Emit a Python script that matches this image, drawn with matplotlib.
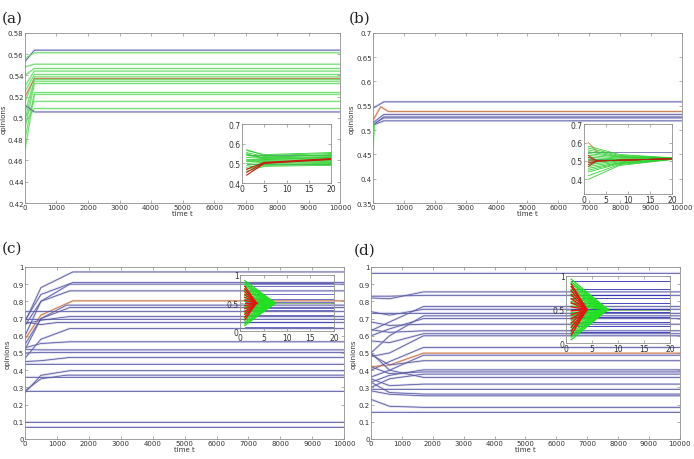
import matplotlib
matplotlib.use('Agg')
import matplotlib.pyplot as plt

# ---- data ----
# (a) main: final opinions, starting opinions, settle time
a_final = [0.5637, 0.5612, 0.5505, 0.5465, 0.544, 0.5408, 0.5386, 0.537, 0.536,
           0.5345, 0.5323, 0.5238, 0.5222, 0.5156, 0.5088, 0.5056]
a_start = [0.553, 0.556, 0.548, 0.540, 0.530, 0.525, 0.515, 0.520, 0.505,
           0.498, 0.490, 0.480, 0.470, 0.500, 0.495, 0.512]
a_kind = ['b', 'g', 'g', 'g', 'g', 'g', 'g', 'r', 'g',
          'g', 'g', 'g', 'g', 'g', 'g', 'b']
a_settle = 300

# (a) inset: green at x=1, x=5, x=20
a_in_g_start = [0.57, 0.565, 0.555, 0.545, 0.54, 0.53, 0.52, 0.515, 0.51, 0.50,
                0.49, 0.48, 0.47, 0.46, 0.55]
a_in_g_mid = [0.54, 0.545, 0.535, 0.53, 0.528, 0.525, 0.52, 0.515, 0.51, 0.505,
              0.50, 0.495, 0.49, 0.485, 0.52]
a_in_g_end = [0.55, 0.555, 0.54, 0.545, 0.535, 0.53, 0.525, 0.52, 0.515, 0.51,
              0.505, 0.50, 0.495, 0.49, 0.53]
a_in_r_start = [0.44, 0.455, 0.47]
a_in_r_mid = [0.50, 0.502, 0.505]
a_in_r_end = [0.52, 0.522, 0.524]
a_in_blue = [0.545, 0.497]

# (b) main
b_final = [0.558, 0.532, 0.527, 0.525, 0.519]
b_start = [0.545, 0.515, 0.51, 0.512, 0.51]
b_settle = 350
b_brown_t = [0, 250, 500, 10000]
b_brown_y = [0.52, 0.548, 0.538, 0.538]
b_green_t = [0, 60]
b_green_y = [0.465, 0.515]

# (b) inset: green at x=1, x=8, x=20
b_in_g_start = [0.40, 0.42, 0.44, 0.45, 0.46, 0.47, 0.48, 0.49, 0.50, 0.51,
                0.52, 0.53, 0.54, 0.55, 0.56, 0.57, 0.58]
b_in_g_mid = [0.475, 0.48, 0.485, 0.488, 0.49, 0.495, 0.50, 0.502, 0.505, 0.508,
              0.51, 0.515, 0.52, 0.522, 0.525, 0.53, 0.535]
b_in_g_end = [0.508, 0.508, 0.509, 0.51, 0.51, 0.51, 0.511, 0.511, 0.512, 0.512,
              0.513, 0.513, 0.514, 0.515, 0.515, 0.516, 0.517]
b_in_r_start = [0.47, 0.48, 0.49, 0.50, 0.52, 0.53]
b_in_blue = [0.547, 0.512]

# (c) main: start, value at t=500, final, settle time
c_final = [0.971, 0.909, 0.90, 0.861, 0.803, 0.778, 0.764, 0.741, 0.712, 0.70,
           0.677, 0.642, 0.565, 0.518, 0.503, 0.474, 0.435, 0.397, 0.371, 0.358,
           0.277, 0.101, 0.068]
c_mid = [0.88, 0.84, 0.80, 0.80, 0.72, 0.70, 0.70, 0.741, 0.69, 0.70,
         0.665, 0.58, 0.555, 0.518, 0.503, 0.455, 0.435, 0.37, 0.35, 0.358,
         0.277, 0.101, 0.068]
c_start = [0.68, 0.69, 0.66, 0.60, 0.58, 0.52, 0.55, 0.74, 0.67, 0.70,
           0.68, 0.47, 0.53, 0.52, 0.50, 0.45, 0.435, 0.27, 0.28, 0.358,
           0.277, 0.101, 0.068]
c_settle = [1500, 1500, 1400, 1400, 1500, 1300, 1400, 900, 1400, 900,
            1000, 1400, 1400, 900, 900, 1400, 900, 1400, 1300, 900,
            900, 900, 900]
c_red = 4  # index of the brown line

# (c) inset
c_in_g_start = [0.10, 0.13, 0.16, 0.20, 0.23, 0.26, 0.30, 0.33, 0.36, 0.40,
                0.43, 0.46, 0.50, 0.53, 0.56, 0.60, 0.63, 0.66, 0.70, 0.73,
                0.76, 0.80, 0.83, 0.86, 0.90]
c_in_r_start = [0.20, 0.25, 0.30, 0.35, 0.40, 0.45, 0.50, 0.55, 0.60, 0.65,
                0.70, 0.75, 0.80]
c_in_blue = [0.86, 0.80, 0.66, 0.58, 0.52, 0.41, 0.37, 0.29, 0.17, 0.08]
c_in_g_meet = 7.5
c_in_r_meet = 3.5

# (d) main: start, value at t=600, final
d_final = [0.967, 0.855, 0.835, 0.77, 0.754, 0.73, 0.716, 0.70, 0.667, 0.629,
           0.612, 0.60, 0.532, 0.499, 0.487, 0.455, 0.402, 0.39, 0.377, 0.358,
           0.319, 0.29, 0.261, 0.251, 0.184, 0.155]
d_mid = [0.967, 0.815, 0.83, 0.68, 0.72, 0.73, 0.60, 0.64, 0.66, 0.62,
         0.56, 0.50, 0.45, 0.43, 0.40, 0.43, 0.37, 0.38, 0.35, 0.40,
         0.31, 0.29, 0.27, 0.26, 0.19, 0.155]
d_start = [0.967, 0.82, 0.83, 0.63, 0.74, 0.73, 0.50, 0.60, 0.68, 0.635,
           0.57, 0.48, 0.40, 0.42, 0.36, 0.49, 0.33, 0.42, 0.30, 0.50,
           0.35, 0.29, 0.33, 0.28, 0.23, 0.155]
d_settle = 1700
d_red = 13

# (d) inset
d_in_g_start = [0.05, 0.09, 0.12, 0.16, 0.20, 0.23, 0.27, 0.30, 0.34, 0.38,
                0.41, 0.45, 0.50, 0.55, 0.59, 0.62, 0.66, 0.70, 0.73, 0.77,
                0.80, 0.84, 0.88, 0.91, 0.95]
d_in_r_start = [0.12, 0.18, 0.24, 0.30, 0.36, 0.42, 0.48, 0.54, 0.60, 0.66,
                0.72, 0.78, 0.84, 0.88]
d_in_blue = [0.92, 0.80, 0.72, 0.67, 0.59, 0.51, 0.46, 0.39, 0.31, 0.26, 0.17]
d_in_g_meet = 8.0
d_in_r_meet = 4.0

COL = {'b': '#55559f', 'g': '#5ad85a', 'r': '#c06a3a'}
HALO = {'b': '#d6d6ee', 'g': '#d4f6d4', 'r': '#f2d6c8'}
TXT = '#333333'
EDGE = '#909090'


def line(ax, x, y, k, lw=0.55, halo=True):
    if halo:
        ax.plot(x, y, color=HALO[k], lw=lw + 1.1, solid_capstyle='butt', zorder=1)
    ax.plot(x, y, color=COL[k], lw=lw, zorder=2)


def style(ax, fs):
    for s in ax.spines.values():
        s.set_color(EDGE)
        s.set_linewidth(0.6)
    ax.tick_params(direction='in', top=True, right=True, length=2, width=0.5,
                   colors=EDGE, labelcolor=TXT, labelsize=fs, pad=1)


def main_axes(rect, ylim, yticks, ylabels):
    ax = fig.add_axes(rect)
    ax.set_xlim(0, 10000)
    ax.set_ylim(*ylim)
    ax.set_xticks(range(0, 10001, 1000))
    ax.set_yticks(yticks)
    ax.set_yticklabels(ylabels)
    ax.set_xlabel('time t', fontsize=5, color=TXT, labelpad=0)
    ax.set_ylabel('opinions', fontsize=5, color=TXT, labelpad=1)
    style(ax, 5)
    return ax


def inset(rect, ylim, yticks, ylabels):
    ax = fig.add_axes(rect)
    ax.patch.set_alpha(0)
    ax.set_xlim(0, 20)
    ax.set_ylim(*ylim)
    ax.set_xticks([0, 5, 10, 15, 20])
    ax.set_yticks(yticks)
    ax.set_yticklabels(ylabels)
    style(ax, 5.5)
    return ax


fig = plt.figure(figsize=(6.94, 4.60), dpi=100)

# ---------------- (a) ----------------
ax = main_axes([0.036, 0.5565, 0.454, 0.370], (0.42, 0.58),
               [0.42 + 0.02 * i for i in range(9)],
               ['0.42', '0.44', '0.46', '0.48', '0.5', '0.52', '0.54', '0.56', '0.58'])
for s, f, k in zip(a_start, a_final, a_kind):
    line(ax, [0, a_settle, 10000], [s, f, f], k)

ax = inset([0.349, 0.600, 0.128, 0.128], (0.4, 0.7), [0.4, 0.5, 0.6, 0.7],
           ['0.4', '0.5', '0.6', '0.7'])
for yb in a_in_blue:
    line(ax, [1, 20], [yb, yb], 'b', halo=False, lw=0.5)
for s, m, e in zip(a_in_g_start, a_in_g_mid, a_in_g_end):
    ax.plot([1, 5, 20], [s, m, e], color='#30d030', lw=0.6)
for s, m, e in zip(a_in_r_start, a_in_r_mid, a_in_r_end):
    ax.plot([1, 5, 20], [s, m, e], color='#c02010', lw=0.8)

# ---------------- (b) ----------------
ax = main_axes([0.5375, 0.5565, 0.445, 0.370], (0.35, 0.7),
               [0.35 + 0.05 * i for i in range(8)],
               ['0.35', '0.4', '0.45', '0.5', '0.55', '0.6', '0.65', '0.7'])
for s, f in zip(b_start, b_final):
    line(ax, [0, b_settle, 10000], [s, f, f], 'b')
line(ax, b_brown_t, b_brown_y, 'r')
line(ax, b_green_t, b_green_y, 'g')

ax = inset([0.8415, 0.576, 0.127, 0.152], (0.32, 0.7), [0.4, 0.5, 0.6, 0.7],
           ['0.4', '0.5', '0.6', '0.7'])
for yb in b_in_blue:
    line(ax, [1, 20], [yb, yb], 'b', halo=False, lw=0.5)
for s, m, e in zip(b_in_g_start, b_in_g_mid, b_in_g_end):
    ax.plot([1, 8, 20], [s, m, e], color='#30d030', lw=0.6)
for s in b_in_r_start:
    ax.plot([1, 3, 20], [s, 0.50, 0.512], color='#b02a10', lw=0.6)
ax.plot([1, 3], [0.60, 0.55], color='#c08040', lw=0.6)

# ---------------- (c) ----------------
ax = main_axes([0.036, 0.0435, 0.460, 0.374], (0, 1),
               [0.1 * i for i in range(11)],
               ['0', '0.1', '0.2', '0.3', '0.4', '0.5', '0.6', '0.7', '0.8', '0.9', '1'])
for i, (s, m, f, t) in enumerate(zip(c_start, c_mid, c_final, c_settle)):
    line(ax, [0, 500, t, 10000], [s, m, f, f], 'r' if i == c_red else 'b')

ax = inset([0.346, 0.278, 0.135, 0.122], (0, 1), [0, 0.5, 1], ['0', '0.5', '1'])
for yb in c_in_blue:
    ax.plot([1, 20], [yb, yb], color='#3a3ab0', lw=0.5)
for s in c_in_g_start:
    ax.plot([1, c_in_g_meet], [s, 0.5], color='#22e022', lw=0.9)
ax.plot([c_in_g_meet, 20], [0.5, 0.5], color='#60a040', lw=0.5)
for s in c_in_r_start:
    ax.plot([1, c_in_r_meet], [s, 0.5], color='#ee1010', lw=0.9)

# ---------------- (d) ----------------
ax = main_axes([0.5346, 0.0435, 0.445, 0.374], (0, 1),
               [0.1 * i for i in range(11)],
               ['0', '0.1', '0.2', '0.3', '0.4', '0.5', '0.6', '0.7', '0.8', '0.9', '1'])
for i, (s, m, f) in enumerate(zip(d_start, d_mid, d_final)):
    line(ax, [0, 600, d_settle, 10000], [s, m, f, f], 'r' if i == d_red else 'b')

ax = inset([0.8156, 0.252, 0.150, 0.146], (0, 1), [0, 0.5, 1], ['0', '0.5', '1'])
for yb in d_in_blue:
    ax.plot([1, 20], [yb, yb], color='#2a2ab8', lw=0.6)
for s in d_in_g_start:
    ax.plot([1, d_in_g_meet], [s, 0.5], color='#22e022', lw=1.0)
ax.plot([d_in_g_meet, 20], [0.5, 0.5], color='#60a040', lw=0.5)
for s in d_in_r_start:
    ax.plot([1, d_in_r_meet], [s, 0.5], color='#ee1010', lw=1.0)

# panel labels
for x, y, lab in [(0.003, 0.975, '(a)'), (0.503, 0.975, '(b)'),
                  (0.003, 0.475, '(c)'), (0.510, 0.470, '(d)')]:
    fig.text(x, y, lab, fontsize=11, family='DejaVu Serif', va='top', color='#222222')

fig.savefig('out.png', dpi=100)
